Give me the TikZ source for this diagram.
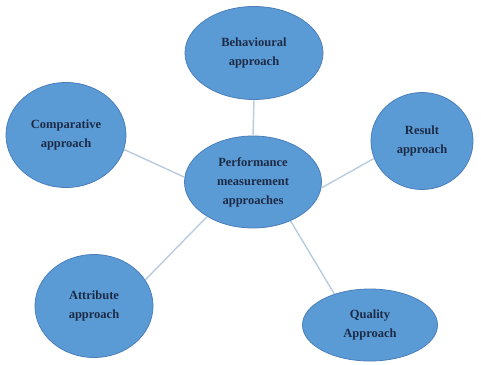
\documentclass[tikz,border=0pt]{standalone}
\usepackage{fontspec}
\setmainfont{Liberation Serif}
\usetikzlibrary{shapes.geometric}
\definecolor{bubblefill}{HTML}{5B9BD5}
\definecolor{bubbleline}{HTML}{4A7EBB}
\definecolor{bubbletext}{HTML}{1C2A45}
\definecolor{linkline}{HTML}{B8CCE0}
\begin{document}
\begin{tikzpicture}[x=1pt,y=-1pt,
  bubble/.style={ellipse,draw=bubbleline,line width=0.8pt,fill=bubblefill,inner sep=0pt,
    text=bubbletext,align=center,font=\fontsize{12.5}{19}\selectfont\bfseries},
  link/.style={draw=linkline,line width=1.4pt}]
\useasboundingbox (0,0) rectangle (481,364);
\node[bubble,minimum width=137pt,minimum height=92pt] (ctr) at (253,182) {Performance\\measurement\\approaches};
\node[bubble,minimum width=138pt,minimum height=93pt] (beh) at (254,53) {Behavioural\\approach};
\node[bubble,minimum width=120pt,minimum height=105pt] (cmp) at (66,135) {Comparative\\approach};
\node[bubble,minimum width=102pt,minimum height=97pt] (res) at (422,141) {Result\\approach};
\node[bubble,minimum width=118pt,minimum height=103pt] (att) at (94,306) {Attribute\\approach};
\node[bubble,minimum width=135pt,minimum height=72pt] (qua) at (370,325) {Quality\\Approach};
\draw[link] (ctr.90) -- (beh.270);
\draw[link] (ctr.176) -- (cmp.346);
\draw[link] (ctr.-5) -- (res.200);
\draw[link] (ctr.217) -- (att.27);
\draw[link] (ctr.314) -- (qua.139);
\end{tikzpicture}
\end{document}
